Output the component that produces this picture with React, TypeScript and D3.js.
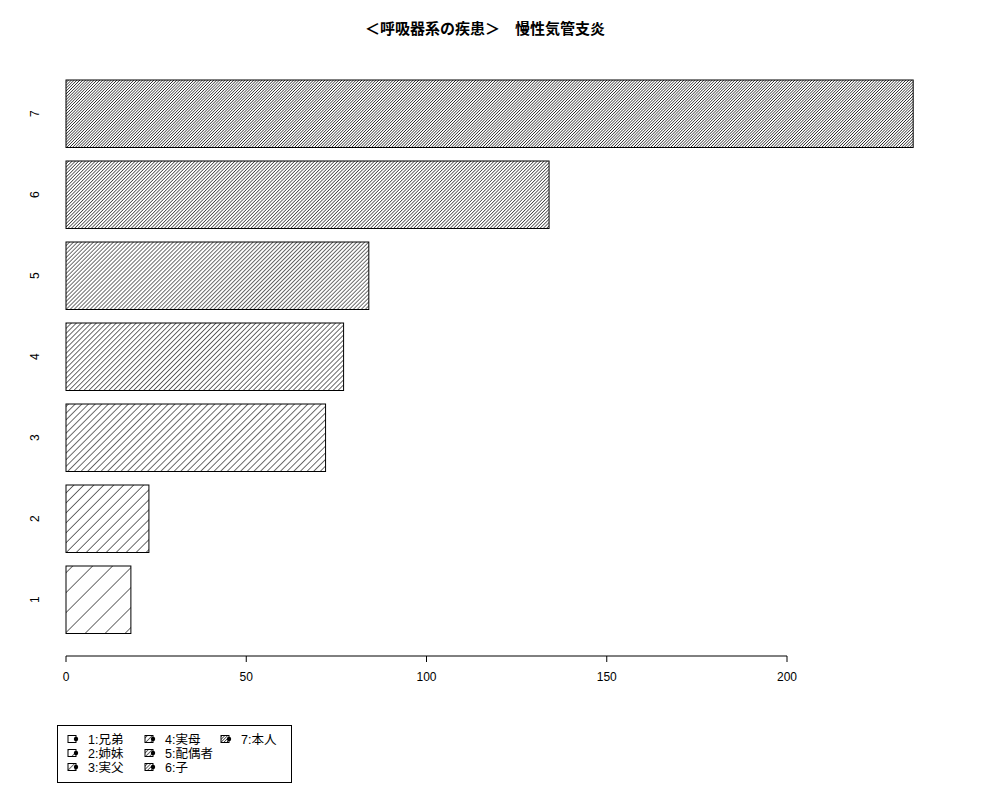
import * as d3 from 'd3'

const categories = ['1', '2', '3', '4', '5', '6', '7']
const values = [18, 23, 72, 77, 84, 134, 235]
const xTicks = [0, 50, 100, 150, 200]
const legendLabels = ['1:兄弟', '2:姉妹', '3:実父', '4:実母', '5:配偶者', '6:子', '7:本人']
const title = '＜呼吸器系の疾患＞　慢性気管支炎'

const FONT = '"Liberation Sans", "Noto Sans CJK JP", sans-serif'

export default function App(): JSX.Element {
  const width = 1000
  const height = 800

  const x = d3.scaleLinear().domain([0, 200]).range([66, 787])
  const y = d3
    .scaleBand<string>()
    .domain([...categories].reverse())
    .range([80, 633.5])
    .paddingInner(1 / 6)

  // hatch spacing shrinks with the category index, like R's density = k * i
  const spacing = (i: number) => 14.1 / (i + 1)

  const legendCols = [68, 145, 221]
  const legendRows = [739, 753, 767]

  return (
    <svg
      width={width}
      height={height}
      style={{ position: 'absolute', left: 0, top: 0, background: '#fff' }}
      fontFamily={FONT}
    >
      <defs>
        {categories.map((c, i) => (
          <pattern
            key={c}
            id={`hatch-${i}`}
            patternUnits="userSpaceOnUse"
            width={spacing(i)}
            height={10}
            patternTransform="rotate(45)"
          >
            <line x1={0} y1={0} x2={0} y2={10} stroke="#000" strokeWidth={1.15} />
          </pattern>
        ))}
      </defs>

      <text x={485} y={34} textAnchor="middle" fontSize={15} fontWeight="bold">
        {title}
      </text>

      {categories.map((c, i) => {
        const y0 = y(c) ?? 0
        const w = x(values[i]) - x(0)
        return (
          <g key={c}>
            <rect x={x(0)} y={y0} width={w} height={y.bandwidth()} fill="#fff" />
            <rect
              x={x(0)}
              y={y0}
              width={w}
              height={y.bandwidth()}
              fill={`url(#hatch-${i})`}
              stroke="#000"
              strokeWidth={1}
            />
            <text
              transform={`translate(39,${y0 + y.bandwidth() / 2}) rotate(-90)`}
              textAnchor="middle"
              fontSize={12}
            >
              {c}
            </text>
          </g>
        )
      })}

      <g>
        <line x1={x(0)} x2={x(200)} y1={656} y2={656} stroke="#000" />
        {xTicks.map((t) => (
          <g key={t}>
            <line x1={x(t)} x2={x(t)} y1={656} y2={662} stroke="#000" />
            <text x={x(t)} y={681} textAnchor="middle" fontSize={12}>
              {t}
            </text>
          </g>
        ))}
      </g>

      <rect x={57.5} y={725.5} width={234} height={57} fill="none" stroke="#000" />
      {legendLabels.map((label, i) => {
        const col = Math.floor(i / 3)
        const row = i % 3
        const lx = legendCols[col]
        const ly = legendRows[row]
        return (
          <g key={label}>
            <rect x={lx} y={ly - 3.5} width={8} height={7} fill="#fff" />
            <rect
              x={lx}
              y={ly - 3.5}
              width={8}
              height={7}
              fill={`url(#hatch-${i})`}
              stroke="#000"
              strokeWidth={1}
            />
            <circle cx={lx + 8} cy={ly} r={2.2} fill="#000" />
            <text x={lx + 20} y={ly + 4.5} fontSize={12.5}>
              {label}
            </text>
          </g>
        )
      })}
    </svg>
  )
}
